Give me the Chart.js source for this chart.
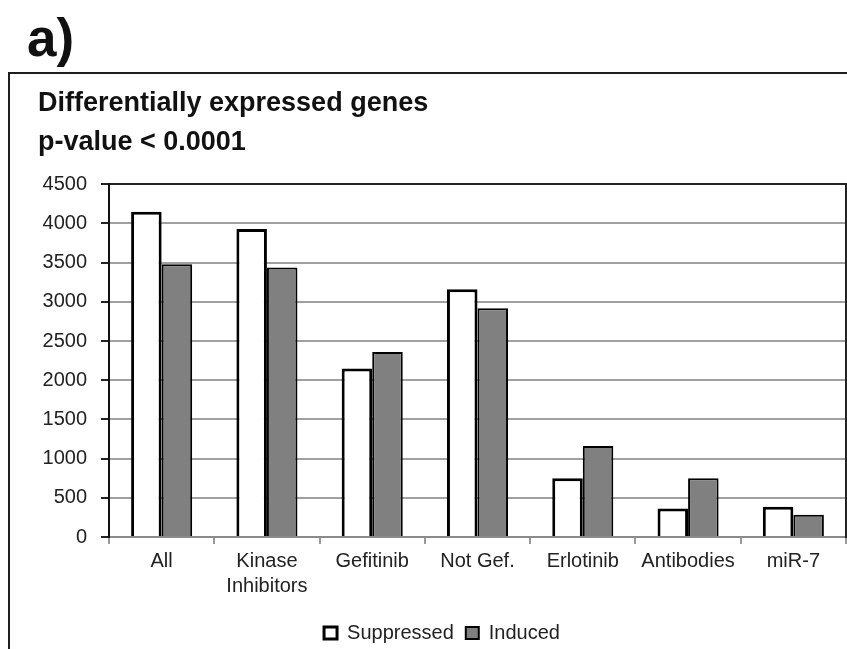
<!DOCTYPE html>
<html>
<head>
<meta charset="utf-8">
<script src="https://cdn.jsdelivr.net/npm/chart.js@4.4.1/dist/chart.umd.min.js"></script>
<style>
    html, body { margin: 0; padding: 0; background: #fff; overflow: hidden; }
    #panel {
        position: absolute; left: 27px; top: 7px; line-height: 53px;
        font: bold 53px "Liberation Sans", Arial, sans-serif; color: #111;
    }
    #frame {
        position: absolute; left: 8px; top: 72px; width: 1000px; height: 800px;
        border-left: 2px solid #1e1e1e; border-top: 2px solid #1e1e1e;
    }
    /* canvas runs a little past the bottom edge so the legend sits low like the original */
    #wrap { position: absolute; left: 0; top: 0; width: 847px; height: 655px; }
</style>
</head>
<body>
<div id="panel">a)</div>
<div id="frame"></div>
<div id="wrap"><canvas id="genesChart" width="847" height="655"></canvas></div>
<script>
// values
const categories = ['All', ['Kinase', 'Inhibitors'], 'Gefitinib', 'Not Gef.', 'Erlotinib', 'Antibodies', 'miR-7'];
const suppressed = [4150, 3930, 2150, 3160, 750, 365, 385];
const induced = [3480, 3440, 2360, 2920, 1160, 750, 285];
const yTicks = [0, 500, 1000, 1500, 2000, 2500, 3000, 3500, 4000, 4500];

const FONT = '"Liberation Sans", Arial, sans-serif';

document.addEventListener("DOMContentLoaded", function () {
    const ctx = document.getElementById('genesChart').getContext('2d');

    new Chart(ctx, {
        type: 'bar',
        data: {
            labels: categories,
            datasets: [{
                label: 'Suppressed',
                data: suppressed,
                backgroundColor: '#ffffff',
                borderColor: '#000000',
                borderWidth: 3,
                borderSkipped: 'bottom'
            }, {
                label: 'Induced',
                data: induced,
                backgroundColor: '#808080',
                borderColor: '#000000',
                borderWidth: 2,
                borderSkipped: 'bottom'
            }]
        },
        options: {
            responsive: false,
            animation: false,
            layout: { padding: { left: 38, right: 1, top: 80, bottom: 2 } },
            datasets: {
                bar: { categoryPercentage: 0.58, barPercentage: 1.0 }
            },
            plugins: {
                title: {
                    display: true,
                    text: ['Differentially expressed genes', 'p-value < 0.0001'],
                    align: 'start',
                    color: '#111',
                    font: { family: FONT, size: 27, weight: 'bold', lineHeight: 1.45 },
                    padding: { top: 4, bottom: 22 }
                },
                legend: {
                    position: 'bottom',
                    labels: {
                        color: '#222',
                        font: { family: FONT, size: 20 },
                        boxWidth: 13,
                        boxHeight: 12,
                        padding: 12
                    }
                },
                tooltip: { enabled: false }
            },
            scales: {
                x: {
                    afterFit: function (scale) { scale.height += 7; },
                    grid: {
                        drawOnChartArea: false,
                        tickLength: 7,
                        color: '#999',
                        lineWidth: 2
                    },
                    border: { color: '#8a8a8a', width: 2 },
                    ticks: {
                        color: '#222',
                        font: { family: FONT, size: 20, lineHeight: 1.25 },
                        padding: 5,
                        maxRotation: 0,
                        autoSkip: false
                    }
                },
                y: {
                    min: 0,
                    max: 4500,
                    afterBuildTicks: function (scale) {
                        scale.ticks = yTicks.map(v => ({ value: v }));
                    },
                    afterFit: function (scale) { scale.width = 71; },
                    grid: {
                        color: c => (c.tick && c.tick.value === 4500) ? '#222' : '#a0a0a0',
                        tickColor: '#222',
                        lineWidth: 2,
                        tickLength: 8
                    },
                    border: { color: '#111', width: 2 },
                    ticks: {
                        color: '#222',
                        font: { family: FONT, size: 20 },
                        padding: 14,
                        callback: v => String(v)
                    }
                },
                y2: {
                    position: 'right',
                    min: 0,
                    max: 4500,
                    afterFit: function (scale) { scale.width = 0; },
                    grid: { drawOnChartArea: false, drawTicks: false },
                    border: { color: '#222', width: 2 },
                    ticks: { display: false }
                }
            }
        }
    });
});
</script>
</body>
</html>
